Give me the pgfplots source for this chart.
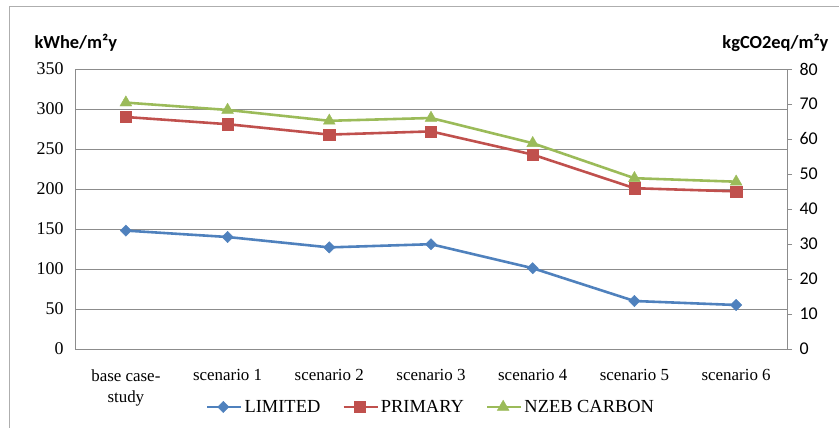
\documentclass[border=0pt]{standalone}
\usepackage{pgfplots}
\pgfplotsset{compat=1.18}
\usepackage{fontspec}
\setmainfont{Liberation Serif}
\newfontfamily\calibri{Carlito}
\definecolor{cblue}{HTML}{4F81BD}
\definecolor{cred}{HTML}{C0504D}
\definecolor{cgreen}{HTML}{9BBB59}
\definecolor{gridgray}{HTML}{8C8C8C}
\begin{document}
\begin{tikzpicture}
\useasboundingbox (-75bp,-79bp) rectangle (764bp,349bp);
\draw[gridgray!70, line width=1pt] (-65.5bp,-79bp) -- (-65.5bp,342bp) -- (764bp,342bp);
\begin{axis}[
  at={(0,0)}, anchor=south west,
  scale only axis, width=712bp, height=280bp,
  xmin=-0.5, xmax=6.5, ymin=0, ymax=350,
  xtick={0,1,2,3,4,5,6},
  xticklabels={{base case-\\study},{scenario 1},{scenario 2},{scenario 3},{scenario 4},{scenario 5},{scenario 6}},
  x tick label style={align=center, font=\fontsize{17}{21}\selectfont, yshift=-17bp},
  ytick={0,50,100,150,200,250,300,350},
  y tick label style={font=\fontsize{18}{20}\selectfont, xshift=-8bp},
  /pgf/number format/assume math mode=true,
  major tick length=0pt,
  ymajorgrids, grid style={gridgray, line width=0.8pt},
  axis line style={gridgray, line width=0.8pt},
  axis y line*=left, axis x line*=bottom,
  legend columns=3,
  legend style={at={(0.5,-0.207)}, anchor=center, draw=none, fill=none,
    font=\fontsize{18.5}{20}\selectfont,
    /tikz/every even column/.append style={column sep=20bp},
    /tikz/every node/.append style={inner xsep=2bp}},
  legend image code/.code={\draw[#1, mark repeat=2, mark phase=2] plot coordinates {(0bp,0bp) (16bp,0bp) (34bp,0bp)};},
  clip=false,
]
\addplot[cblue, line width=2.6pt, mark=square*, mark size=4bp, mark options={solid, rotate=45, line width=0.4pt, fill=cblue}]
  coordinates {(0,148) (1,140) (2,127) (3,131) (4,101) (5,60) (6,55)};
\addlegendentry{LIMITED}
\addplot[cred, line width=2.6pt, mark=square*, mark size=5.6bp, mark options={solid, line width=0.4pt, fill=cred}]
  coordinates {(0,290) (1,281) (2,268) (3,272) (4,243) (5,201) (6,197)};
\addlegendentry{PRIMARY}
\addlegendimage{cgreen, line width=2.6pt, mark=triangle*, mark size=6.8bp, mark options={solid, line width=0.4pt, fill=cgreen}}
\addlegendentry{NZEB CARBON}
\node[anchor=west, font=\calibri\bfseries\fontsize{18.5}{20}\selectfont] at (axis cs:-0.5,350) [xshift=-44bp, yshift=26bp] {kWhe/m²y};
\end{axis}
\begin{axis}[
  at={(0,0)}, anchor=south west,
  scale only axis, width=712bp, height=280bp,
  xmin=-0.5, xmax=6.5, ymin=0, ymax=80,
  axis x line=none,
  axis y line*=right,
  ytick={0,10,20,30,40,50,60,70,80},
  y tick label style={font=\calibri\fontsize{18}{20}\selectfont, xshift=4bp},
  /pgf/number format/assume math mode=true,
  tick align=outside, major tick length=5bp,
  tick style={gridgray, line width=0.8pt},
  axis line style={gridgray, line width=0.8pt},
  clip=false,
]
\addplot[cgreen, line width=2.6pt, mark=triangle*, mark size=6.8bp, mark options={solid, line width=0.4pt, fill=cgreen}]
  coordinates {(0,70.4) (1,68.3) (2,65.2) (3,66.0) (4,58.8) (5,48.8) (6,47.8)};
\node[anchor=east, font=\calibri\bfseries\fontsize{18.5}{20}\selectfont] at (axis cs:6.5,80) [xshift=45bp, yshift=26bp] {kgCO2eq/m²y};
\end{axis}
\end{tikzpicture}
\end{document}
